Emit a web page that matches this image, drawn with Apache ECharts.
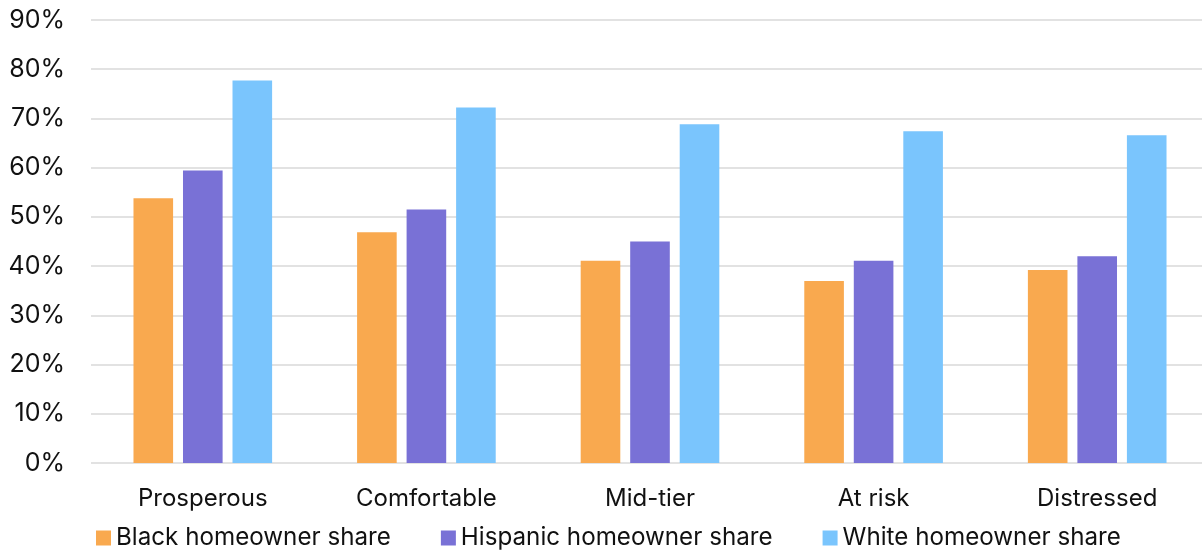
<!DOCTYPE html>
<html>
<head>
<meta charset="utf-8">
<script src="https://cdn.jsdelivr.net/npm/echarts@6/dist/echarts.min.js"></script>
<style>
  html, body { margin: 0; padding: 0; background: #fff; }
  #chart { width: 1202px; height: 552px; }
</style>
</head>
<body>
<div id="chart"></div>
<script>
// Homeownership share by financial health tier
const categories = ['Prosperous', 'Comfortable', 'Mid-tier', 'At risk', 'Distressed'];
const seriesNames = ['Black homeowner share', 'Hispanic homeowner share', 'White homeowner share'];
const blackShare = [53.8, 46.9, 41.1, 37.0, 39.2];
const hispanicShare = [59.4, 51.5, 45.0, 41.1, 42.0];
const whiteShare = [77.7, 72.2, 68.8, 67.4, 66.6];
const yTicks = [0, 10, 20, 30, 40, 50, 60, 70, 80, 90];

const colors = ['#F9A94F', '#7971D6', '#7AC5FD'];
const font = 'Inter, "Liberation Sans", sans-serif';

const chart = echarts.init(document.getElementById('chart'));
chart.setOption({
  animation: false,
  color: colors,
  grid: { left: 91, width: 1118, top: 20, bottom: 89, containLabel: false, outerBoundsMode: 'none' },
  legend: {
    bottom: -3,
    left: 91,
    itemWidth: 15,
    itemHeight: 15,
    itemGap: 50,
    icon: 'rect',
    textStyle: { fontFamily: font, fontSize: 24.2, color: '#111' },
    data: seriesNames
  },
  xAxis: {
    type: 'category',
    data: categories,
    axisLine: { show: false },
    axisTick: { show: false },
    axisLabel: { fontFamily: font, fontSize: 24, color: '#111', margin: 24 }
  },
  yAxis: {
    type: 'value',
    min: yTicks[0],
    max: yTicks[yTicks.length - 1],
    interval: 10,
    axisLine: { show: false },
    axisTick: { show: false },
    splitLine: { lineStyle: { color: '#e2e2e2', width: 2 } },
    axisLabel: { fontFamily: font, fontSize: 25, color: '#111', margin: 26, formatter: v => v + '%' }
  },
  series: [blackShare, hispanicShare, whiteShare].map((d, i) => ({
    name: seriesNames[i],
    type: 'bar',
    data: d,
    barGap: '25%',
    barCategoryGap: '38%'
  }))
});
</script>
</body>
</html>
